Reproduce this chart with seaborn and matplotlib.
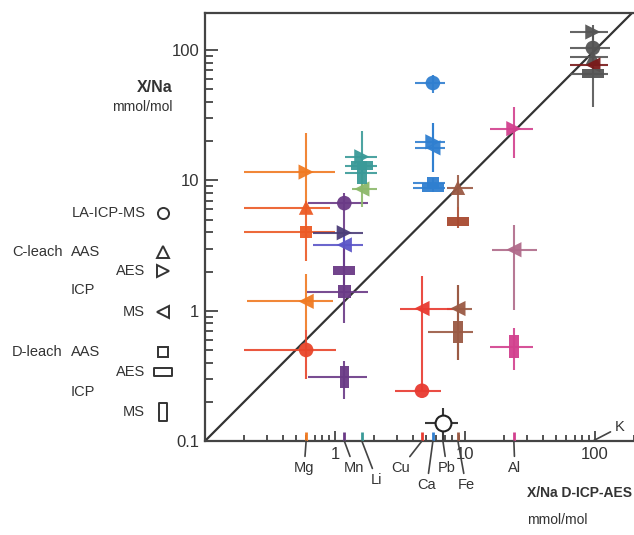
import numpy as np
import pandas as pd
import seaborn as sns
import matplotlib.pyplot as plt
from matplotlib.path import Path
from matplotlib.ticker import LogLocator, NullFormatter, FixedFormatter, FixedLocator

# element positions on the x axis (X/Na by D-ICP-AES, mmol/mol)
elements = ["Mg", "Mn", "Li", "Cu", "Ca", "Pb", "Fe", "Al", "K"]
element_x = [0.60, 1.18, 1.61, 4.67, 5.67, 6.77, 8.83, 23.8, 96.5]

# one row per measurement: element, method, X/Na and its ranges
point_element = ["Mg", "Mg", "Mg", "Mg", "Mg",
                 "Mn", "Mn", "Mn", "Mn", "Mn", "Mn",
                 "Li", "Li", "Li", "Li",
                 "Ca", "Ca", "Ca", "Ca", "Ca",
                 "Fe", "Fe", "Fe", "Fe",
                 "Cu", "Cu",
                 "Pb",
                 "Al", "Al", "Al",
                 "K", "K", "K", "K", "K"]
point_method = ["C-AES", "C-AAS", "D-AAS", "C-MS", "LA",
                "LA", "C-AES", "C-MS", "D-AES", "D-AAS", "D-MS",
                "C-AES", "D-AES", "D-MS", "C-MS",
                "LA", "C-AES", "C-MS", "D-AAS", "D-AES",
                "C-AAS", "D-AES", "C-MS", "D-MS",
                "C-MS", "LA",
                "LA",
                "C-AES", "C-MS", "D-MS",
                "C-AES", "LA", "C-AAS", "C-MS", "D-AES"]
point_y = [11.6, 6.2, 4.04, 1.18, 0.50,
           6.7, 3.97, 3.2, 2.03, 1.40, 0.31,
           15.2, 13.0, 11.5, 8.6,
           56, 19.8, 17.8, 9.6, 8.8,
           8.8, 4.82, 1.04, 0.69,
           1.04, 0.243,
           0.138,
           25, 2.94, 0.53,
           138, 104, 88, 77, 66]
x_low = [0.20, 0.20, 0.20, 0.21, 0.20,
         0.62, 0.68, 0.68, 1.18, 0.61, 0.62,
         1.19, 1.19, 1.19, 1.35,
         4.1, 4.1, 4.1, 4.0, 4.0,
         7.3, 8.83, 7.3, 5.2,
         3.16, 2.9,
         4.9,
         15.6, 16.1, 15.6,
         64, 64, 64, 64, 64]
x_high = [1.0, 0.91, 1.0, 0.96, 1.02,
          1.79, 1.64, 1.64, 1.18, 1.79, 1.76,
          2.1, 2.1, 2.1, 2.1,
          7.0, 7.0, 7.0, 7.0, 7.0,
          11.5, 8.83, 11.4, 11.5,
          8.4, 6.6,
          8.8,
          33.2, 35.7, 33.2,
          126, 130, 126, 126, 126]
y_low = [7.0, 5.0, 2.4, 0.71, 0.30,
         4.0, 3.2, 2.0, 1.40, 0.81, 0.21,
         10.0, 11.5, 9.0, 6.3,
         47, 11.7, 11.7, 9.0, 8.2,
         6.3, 4.3, 0.42, 0.42,
         0.24, 0.243,
         0.10,
         14.9, 1.02, 0.35,
         120, 88, 77, 66, 36.6]
y_high = [23.2, 7.0, 5.0, 1.9, 0.71,
          8.0, 4.0, 3.97, 3.2, 2.03, 0.41,
          24, 15.2, 13.0, 11.0,
          65, 27.8, 27.8, 10.5, 9.6,
          11.0, 6.3, 1.58, 1.58,
          1.86, 0.243,
          0.18,
          36.8, 4.57, 0.74,
          156, 138, 104, 88, 77]

# colours
element_colors = {"Mg": "#f07a22", "Mn": "#6a3a86", "Li": "#3a9a98", "Cu": "#e83a30",
                  "Ca": "#2f7fd0", "Pb": "#333333", "Fe": "#9a5a44", "Al": "#d2408e",
                  "K": "#555555"}
special_colors = {("Mg", "LA"): "#e8452a", ("Mg", "C-AAS"): "#ec5a24", ("Mg", "D-AAS"): "#ec5a24",
                  ("Mn", "C-AES"): "#4b3d78", ("Mn", "C-MS"): "#5b55c8",
                  ("Li", "C-MS"): "#8cb86a", ("Fe", "D-AES"): "#a84a30",
                  ("Al", "C-MS"): "#b06a8a", ("K", "C-MS"): "#7a1a1a"}

wide_rect = Path([(-1, -0.42), (1, -0.42), (1, 0.42), (-1, 0.42), (-1, -0.42)], closed=True)
tall_rect = Path([(-0.42, -1), (0.42, -1), (0.42, 1), (-0.42, 1), (-0.42, -1)], closed=True)
method_markers = {"LA": "o", "C-AAS": "^", "C-AES": ">", "C-MS": "<",
                  "D-AAS": "s", "D-AES": wide_rect, "D-MS": tall_rect}
method_sizes = {"LA": 110, "C-AAS": 110, "C-AES": 120, "C-MS": 120,
                "D-AAS": 80, "D-AES": 260, "D-MS": 260}

xmap = dict(zip(elements, element_x))
df = pd.DataFrame({"element": point_element, "method": point_method, "y": point_y,
                   "xlo": x_low, "xhi": x_high, "ylo": y_low, "yhi": y_high})
df["x"] = df["element"].map(xmap)
df["key"] = df["element"] + " " + df["method"]
palette = {}
for el, m in zip(df["element"], df["method"]):
    palette[el + " " + m] = special_colors.get((el, m), element_colors[el])

sns.set_style("ticks")
plt.rcParams["font.family"] = ["Liberation Sans", "DejaVu Sans"]

W, H = 634, 535
fig = plt.figure(figsize=(W / 100, H / 100), dpi=100)
ax = fig.add_axes([205 / W, 1 - 441 / H, 429 / W, 428 / H])
ax.set_xscale("log")
ax.set_yscale("log")
ax.set_xlim(0.1, 200)
ax.set_ylim(0.1, 193)

# 1:1 line
ax.plot([0.1, 200], [0.1, 200], color="#333333", lw=1.6, zorder=1)

# error bars
for _, r in df.iterrows():
    c = palette[r["key"]] if r["element"] != "Pb" else "#222222"
    ax.errorbar(r["x"], r["y"],
                xerr=[[r["x"] - r["xlo"]], [r["xhi"] - r["x"]]],
                yerr=[[r["y"] - r["ylo"]], [r["yhi"] - r["y"]]],
                fmt="none", ecolor=c, elinewidth=1.5, capsize=0, alpha=0.9, zorder=2)

# markers
for m, mk in method_markers.items():
    sub = df[(df["method"] == m) & (df["element"] != "Pb")]
    if len(sub) == 0:
        continue
    sns.scatterplot(data=sub, x="x", y="y", hue="key", palette=palette, marker=mk,
                    s=method_sizes[m], linewidth=0, alpha=0.95, legend=False, ax=ax, zorder=3)
pb = df[df["element"] == "Pb"]
sns.scatterplot(data=pb, x="x", y="y", color="white", edgecolor="#222222", linewidth=1.5,
                s=130, marker="o", legend=False, ax=ax, zorder=4)

# axes styling
for side in ["left", "top", "bottom"]:
    ax.spines[side].set_color("#444444")
    ax.spines[side].set_linewidth(1.6)
ax.spines["right"].set_visible(False)
ax.xaxis.set_major_locator(FixedLocator([0.1, 1, 10, 100]))
ax.xaxis.set_major_formatter(FixedFormatter(["", "1", "10", "100"]))
ax.xaxis.set_minor_locator(LogLocator(base=10, subs=np.arange(2, 10)))
ax.xaxis.set_minor_formatter(NullFormatter())
ax.yaxis.set_major_locator(FixedLocator([0.1, 1, 10, 100]))
ax.yaxis.set_major_formatter(FixedFormatter(["0.1", "1", "10", "100"]))
ax.yaxis.set_minor_locator(LogLocator(base=10, subs=np.arange(2, 10)))
ax.yaxis.set_minor_formatter(NullFormatter())
ax.tick_params(axis="both", which="both", direction="in", color="#444444", width=1.3,
               labelsize=12, labelcolor="#333333", pad=4)
ax.tick_params(axis="y", which="major", length=9)
ax.tick_params(axis="y", which="minor", length=5.5)
ax.tick_params(axis="x", which="major", length=7)
ax.tick_params(axis="x", which="minor", length=4.5)
ax.set_xlabel("")
ax.set_ylabel("")

# coloured element marks on the x axis
tick_els = ["Mg", "Mn", "Li", "Cu", "Ca", "Fe", "Al"]
ax.vlines([xmap[e] for e in tick_els], 0, 0.022, transform=ax.get_xaxis_transform(),
          colors=[element_colors[e] for e in tick_els], lw=2, zorder=3)

# element labels with leader lines (offsets in pixels)
label_offsets = {"Mg": (-2, -27), "Mn": (10, -27), "Li": (15, -39), "Cu": (-21, -27),
                 "Ca": (-6, -44), "Pb": (4, -27), "Fe": (8, -44), "Al": (1, -27),
                 "K": (27, 14)}
for e in elements:
    ax.annotate(e, xy=(xmap[e], 0.1), xytext=label_offsets[e], textcoords="offset pixels",
                ha="center", va="center", fontsize=10.5, color="#333333",
                annotation_clip=False,
                arrowprops=dict(arrowstyle="-", color="#444444", lw=1.2, shrinkA=1, shrinkB=0))

# overlay in pixel coordinates for the legend and axis titles
ov = fig.add_axes([0, 0, 1, 1], zorder=-1)
ov.set_xlim(0, W)
ov.set_ylim(H, 0)
ov.axis("off")
tc = "#333333"
ov.text(173, 87, "X/Na", ha="right", va="center", fontsize=11.5, fontweight="bold", color=tc)
ov.text(173, 107, "mmol/mol", ha="right", va="center", fontsize=10, color=tc)
ov.text(632, 493, "X/Na D-ICP-AES", ha="right", va="center", fontsize=10, fontweight="bold", color=tc)
ov.text(527, 520, "mmol/mol", ha="left", va="center", fontsize=10, color=tc)

legend_rows = [("LA-ICP-MS", 146, "right", 213, "o", 8),
               ("C-leach", 12, "left", 252, None, 0),
               ("AAS", 71, "left", 252, "^", 8),
               ("AES", 145, "right", 271, ">", 8),
               ("ICP", 71, "left", 290, None, 0),
               ("MS", 145, "right", 312, "<", 8),
               ("D-leach", 12, "left", 352, None, 0),
               ("AAS", 71, "left", 352, "s", 6.5),
               ("AES", 145, "right", 372, wide_rect, 13),
               ("ICP", 71, "left", 392, None, 0),
               ("MS", 145, "right", 412, tall_rect, 13)]
for txt, tx, ha, ty, mk, ms in legend_rows:
    ov.text(tx, ty, txt, ha=ha, va="center", fontsize=10.5, color=tc)
    if mk is not None:
        ov.plot([163], [ty], marker=mk, ms=ms, mfc="none", mec="#333333", mew=1.4, ls="none")

fig.savefig("out.png", dpi=100)
